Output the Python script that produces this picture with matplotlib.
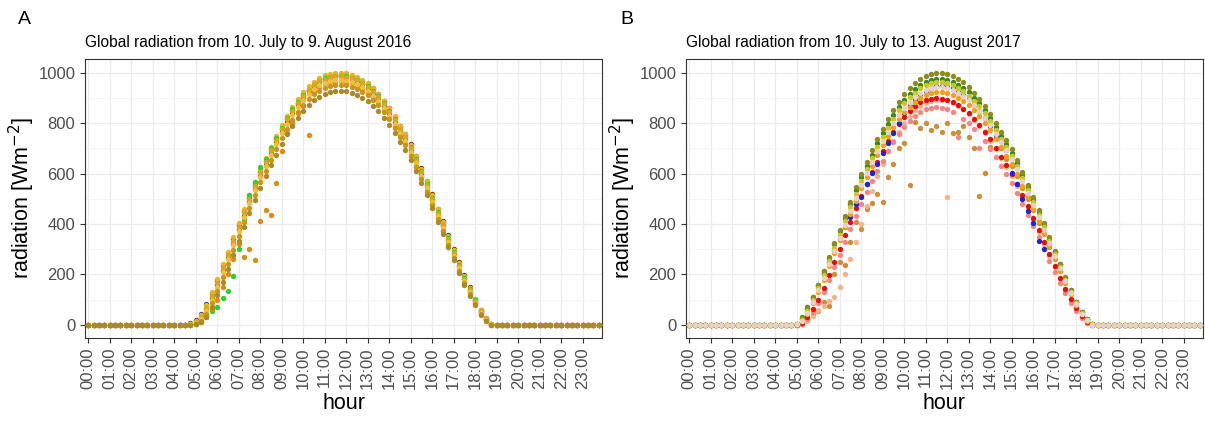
import matplotlib
matplotlib.use("Agg")
import matplotlib.pyplot as plt
import numpy as np

plt.rcParams['font.family'] = ['Liberation Sans', 'DejaVu Sans']

# 15-minute time steps of one day (categories on a discrete axis)
TIMES = [f"{h:02d}:{m:02d}" for h in range(24) for m in (0, 15, 30, 45)]
HOUR_LABELS = [f"{h:02d}:00" for h in range(24)]
DAY_START = 19   # first daytime step (04:45); before and after the values are 0

# ---- panel A: 10 July - 9 August 2016, daytime values 04:45 .. 18:45 ----
A_DAYS = {
    "#4B3A8F": [6, 18, 42, 82, 128, 180, 236, 286, 340, 396, 450, 503, 555, 605, 650, 694, 737, 778, 816, 851,
                882, 911, 933, 952, 967, 977, 984, 987, 986, 983, 977, 968, 955, 940, 921, 898, 870, 840, 806, 770,
                736, 694, 649, 600, 550, 495, 440, 391, 336, 283, 232, 182, 136, 94, 53, 22, 2],
    "#8B1F1F": [2, 8, 28, 62, 108, 160, 215, 265, 322, 378, 434, 488, 540, 590, 636, 680, 724, 766, 806, 842,
                874, 904, 927, 948, 965, 977, 986, 991, 993, 992, 988, 981, 969, 955, 938, 916, 889, 859, 826, 790,
                758, 716, 672, 622, 572, 518, 461, 411, 356, 301, 249, 196, 149, 104, 61, 29, 5],
    "#E8B52A": [5, 15, 40, 80, 130, 182, 240, 290, 348, 405, 460, 515, 567, 617, 663, 707, 750, 792, 830, 865,
                895, 925, 946, 964, 980, 990, 997, 1000, 1000, 998, 993, 985, 972, 958, 940, 918, 890, 860, 827, 790,
                758, 715, 670, 620, 570, 515, 458, 409, 353, 298, 246, 194, 147, 103, 60, 28, 5],
    "#33CC33": [0, 5, 15, 35, 55, 72, 105, 135, 195, 300, 420, 515, 568, 625, 660, 700, 742, 782, 820, 855,
                884, 912, 933, 952, 968, 978, 985, 988, 989, 986, 981, 973, 961, 947, 929, 907, 879, 849, 816, 779,
                746, 704, 659, 609, 559, 504, 448, 398, 343, 289, 238, 187, 141, 98, 56, 25, 3],
    "#DAA520": [3, 10, 30, 68, 115, 168, 225, 276, 333, 390, 446, 500, 552, 602, 648, 692, 735, 777, 815, 850,
                880, 910, 931, 950, 966, 976, 983, 986, 986, 984, 979, 971, 958, 944, 926, 904, 876, 846, 813, 776,
                744, 701, 656, 606, 556, 501, 445, 396, 340, 286, 235, 184, 138, 95, 54, 24, 3],
    "#D98C1A": [0, 3, 12, 30, 62, 100, 150, 200, 262, 320, 268, 302, 258, 411, 457, 437, 563, 690, 760, 800,
                840, 870, 755, 930, 945, 955, 962, 965, 966, 963, 958, 949, 937, 922, 904, 882, 854, 824, 790, 754,
                720, 679, 634, 585, 535, 481, 425, 377, 322, 270, 219, 170, 126, 85, 46, 18, 1],
    "#F0C040": [2, 6, 22, 55, 100, 152, 208, 260, 316, 372, 430, 484, 536, 586, 632, 676, 719, 760, 798, 834,
                864, 893, 915, 934, 950, 960, 967, 970, 970, 968, 963, 955, 942, 928, 910, 888, 860, 830, 797, 760,
                728, 686, 641, 592, 542, 488, 432, 384, 328, 275, 224, 174, 130, 88, 48, 20, 2],
    "#C8961E": [1, 4, 15, 42, 85, 135, 190, 240, 296, 352, 410, 462, 515, 565, 612, 655, 698, 740, 778, 813,
                845, 873, 896, 915, 930, 941, 948, 951, 952, 950, 945, 937, 925, 911, 893, 871, 844, 815, 782, 746,
                712, 671, 627, 578, 529, 476, 421, 373, 318, 266, 215, 166, 122, 82, 43, 17, 1],
    "#A88A2A": [0, 2, 10, 32, 72, 120, 172, 222, 278, 333, 390, 442, 494, 544, 590, 634, 676, 718, 756, 790,
                822, 850, 872, 891, 906, 917, 924, 928, 929, 927, 922, 914, 902, 888, 870, 849, 822, 794, 762, 727,
                694, 654, 611, 563, 515, 463, 409, 362, 308, 257, 207, 159, 116, 77, 39, 15, 0],
}

# ---- panel B: 10 July - 13 August 2017 ----
B_DAYS = {
    "#C8903C": [0, 0, 5, 20, 38, 55, 90, 73, 200, 250, 238, 330, 410, 380, 460, 483, 520, 489, 586, 640,
                700, 720, 556, 807, 780, 803, 774, 790, 767, 800, 760, 767, 790, 745, 700, 512, 604, 705, 740, 700,
                660, 630, 590, 545, 500, 455, 405, 360, 310, 262, 215, 168, 124, 84, 46, 18, 2],
    "#F2B48C": [0, 0, 3, 15, 35, 60, 75, 95, 112, 150, 200, 260, 330, 400, 470, 530, 590, 640, 690, 730,
                765, 800, 830, 852, 870, 882, 890, 893, 893, 509, 882, 870, 855, 836, 814, 790, 762, 731, 697, 662,
                628, 592, 552, 508, 463, 417, 370, 322, 275, 228, 182, 139, 99, 63, 32, 11, 0],
    "#F08888": [0, 0, 5, 22, 50, 85, 130, 178, 228, 278, 330, 382, 432, 480, 526, 570, 612, 652, 690, 725,
                757, 786, 810, 830, 845, 855, 861, 863, 861, 855, 845, 745, 818, 800, 778, 701, 728, 698, 665, 630,
                598, 562, 523, 481, 438, 393, 347, 300, 254, 208, 165, 125, 88, 55, 27, 9, 0],
    "#E01010": [0, 0, 8, 30, 62, 100, 148, 198, 250, 302, 356, 410, 462, 512, 560, 606, 648, 690, 728, 764,
                796, 826, 850, 870, 884, 893, 898, 900, 898, 893, 884, 872, 857, 839, 818, 794, 767, 737, 703, 668,
                634, 598, 558, 514, 470, 424, 378, 330, 282, 234, 188, 144, 104, 67, 35, 13, 0],
    "#2525C8": [0, 2, 25, 64, 108, 155, 205, 250, 298, 340, 390, 430, 480, 507, 560, 604, 640, 684, 720, 763,
                800, 840, 870, 895, 915, 930, 940, 946, 948, 945, 938, 926, 912, 895, 873, 850, 820, 790, 755, 730,
                692, 604, 560, 499, 450, 406, 331, 300, 320, 291, 240, 188, 138, 92, 53, 24, 4],
    "#F0A020": [0, 1, 14, 44, 85, 130, 180, 232, 284, 336, 388, 440, 492, 542, 588, 632, 674, 714, 750, 784,
                815, 843, 866, 885, 900, 912, 920, 924, 924, 920, 913, 902, 889, 872, 852, 829, 802, 772, 738, 704,
                672, 637, 597, 552, 507, 460, 413, 364, 314, 264, 215, 167, 121, 79, 42, 17, 1],
    "#3A8A1A": [0, 4, 30, 70, 112, 160, 212, 266, 320, 372, 426, 480, 535, 588, 632, 676, 720, 760, 796, 832,
                864, 892, 915, 934, 950, 962, 970, 974, 974, 971, 964, 953, 940, 923, 902, 879, 852, 820, 786, 751,
                718, 683, 642, 593, 546, 497, 447, 395, 342, 288, 237, 185, 135, 89, 50, 22, 3],
    "#8C8C1E": [0, 3, 27, 66, 110, 159, 212, 269, 324, 377, 433, 489, 546, 600, 646, 692, 738, 778, 815, 852,
                886, 915, 938, 958, 976, 988, 996, 1000, 1000, 996, 988, 976, 963, 945, 922, 898, 870, 837, 802, 766,
                733, 697, 655, 605, 557, 507, 457, 404, 350, 295, 243, 190, 139, 92, 53, 25, 5],
    "#C8C828": [0, 2, 20, 55, 98, 146, 198, 252, 305, 358, 412, 466, 520, 572, 618, 662, 706, 746, 783, 818,
                851, 880, 903, 922, 939, 950, 958, 962, 962, 958, 951, 940, 927, 910, 890, 867, 840, 809, 774, 739,
                707, 672, 631, 583, 536, 487, 438, 387, 334, 281, 230, 179, 130, 85, 47, 20, 2],
    "#E6D3C3": [0, 2, 16, 48, 90, 137, 188, 240, 292, 345, 398, 452, 505, 556, 602, 646, 690, 730, 767, 802,
                834, 862, 885, 904, 920, 932, 940, 944, 944, 940, 933, 922, 909, 892, 872, 849, 822, 792, 758, 724,
                692, 657, 617, 570, 524, 476, 428, 378, 326, 274, 224, 174, 126, 82, 44, 18, 1],
}

TITLES = ["Global radiation from 10. July to 9. August 2016",
          "Global radiation from 10. July to 13. August 2017"]
PANEL_TAGS = ["A", "B"]


def full_day(vals):
  out = np.zeros(len(TIMES))
  out[DAY_START:DAY_START + len(vals)] = vals
  return out


def radiation_panel(ax, days, title):
  x = np.arange(len(TIMES))
  for color, vals in days.items():
    ax.scatter(x, full_day(vals), s=15, color=color, linewidths=0, zorder=3)

  ax.set_xlim(-0.6, len(TIMES) - 0.4)
  ax.set_ylim(-50, 1055)
  ax.set_xticks(np.arange(0, len(TIMES), 4))
  ax.set_xticklabels(HOUR_LABELS, rotation=90, fontsize=12, color='#4D4D4D')
  ax.set_yticks([0, 200, 400, 600, 800, 1000])
  ax.set_yticks([100, 300, 500, 700, 900], minor=True)
  ax.tick_params(axis='y', labelsize=12, labelcolor='#4D4D4D')
  ax.tick_params(which='major', length=3.5, color='#333333', width=0.8)
  ax.tick_params(which='minor', length=0)
  ax.grid(True, which='major', color='#EBEBEB', linewidth=0.9, zorder=0)
  ax.grid(True, which='minor', axis='y', color='#F2F2F2', linewidth=0.6, zorder=0)
  ax.set_axisbelow(True)
  for s in ax.spines.values():
    s.set_color('#333333')
    s.set_linewidth(0.8)

  ax.set_xlabel('hour', fontsize=15.5, labelpad=3)
  ax.set_ylabel('radiation [Wm$^{-2}$]', fontsize=15.5, labelpad=1)
  ax.set_title(title, loc='left', fontsize=11.2, pad=9)


fig = plt.figure(figsize=(12.05, 4.21), dpi=100)
ax_a = fig.add_axes([85 / 1205, 83.5 / 421, 517 / 1205, 278.5 / 421])
ax_b = fig.add_axes([686 / 1205, 83.5 / 421, 517 / 1205, 278.5 / 421])

radiation_panel(ax_a, A_DAYS, TITLES[0])
radiation_panel(ax_b, B_DAYS, TITLES[1])

fig.text(18 / 1205, 1 - 20 / 421, PANEL_TAGS[0], fontsize=14, va='center')
fig.text(620 / 1205, 1 - 20 / 421, PANEL_TAGS[1], fontsize=14, va='center')

plt.savefig('out.png', dpi=100)
